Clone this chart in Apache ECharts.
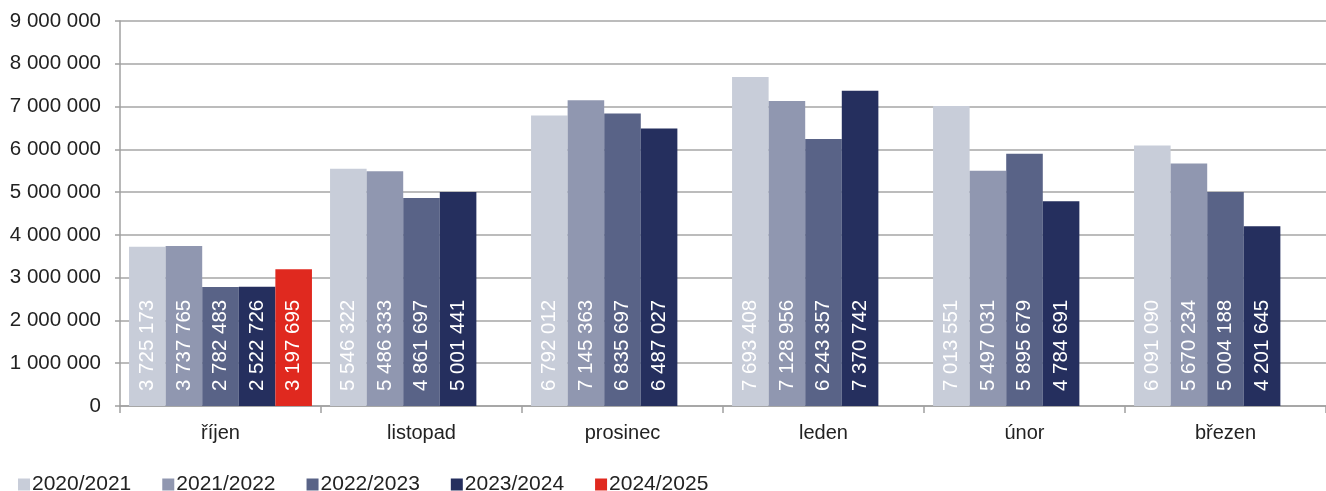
<!DOCTYPE html>
<html><head><meta charset="utf-8">
<script src="https://cdn.jsdelivr.net/npm/echarts@6/dist/echarts.min.js"></script>
<style>html,body{margin:0;padding:0;background:#fff}#c{width:1326px;height:491px}</style>
</head><body><div id="c"></div>
<script>
const categories = ['říjen','listopad','prosinec','leden','únor','březen'];
const seriesNames = ['2020/2021','2021/2022','2022/2023','2023/2024','2024/2025'];
const s2020 = [3725173,5546322,6792012,7693408,7013551,6091090];
const s2021 = [3737765,5486333,7145363,7128956,5497031,5670234];
const s2022 = [2782483,4861697,6835697,6243357,5895679,5004188];
const s2023 = [2790000,5001441,6487027,7370742,4784691,4201645];
const s2024 = [3197695,null,null,null,null,null];
const labels2023 = ['2 522 726','5 001 441','6 487 027','7 370 742','4 784 691','4 201 645'];
const yTicks = [0,1000000,2000000,3000000,4000000,5000000,6000000,7000000,8000000,9000000];
const colors = ['#c8cdd9','#9097b0','#596387','#252f5e','#e0291f'];

const fmt = v => String(v).replace(/\B(?=(\d{3})+(?!\d))/g,' ');
const data = [s2020,s2021,s2022,s2023,s2024];
const chart = echarts.init(document.getElementById('c'));
chart.setOption({
  animation:false,
  textStyle:{fontFamily:'Liberation Sans, Arial, sans-serif'},
  grid:{left:120,right:0,top:21,bottom:85,containLabel:false},
  legend:{left:13,top:469,itemWidth:12,itemHeight:12,itemGap:31,icon:'rect',
    textStyle:{fontSize:21,color:'#222',padding:[0,0,0,-3]},data:seriesNames},
  xAxis:{type:'category',data:categories,
    axisLine:{lineStyle:{color:'#a0a0a0',width:1.5}},
    axisTick:{show:true,length:7,lineStyle:{color:'#a0a0a0',width:1.5}},
    axisLabel:{fontSize:20,color:'#222',margin:17}},
  yAxis:{type:'value',min:yTicks[0],max:yTicks[yTicks.length-1],interval:1000000,
    axisLine:{show:true,lineStyle:{color:'#a0a0a0',width:1.5}},
    axisTick:{show:true,length:5,lineStyle:{color:'#a0a0a0',width:1.5}},
    splitLine:{lineStyle:{color:'#a6a6a6',width:1.5}},
    axisLabel:{fontSize:20.5,color:'#222',margin:19,formatter:v=>fmt(v)}},
  series: seriesNames.map((n,i)=>({
    name:n,type:'bar',data:data[i],barGap:'0%',barCategoryGap:'9%',
    itemStyle:{color:colors[i]},
    label:{show:true,position:'insideBottom',rotate:90,align:'left',verticalAlign:'middle',
      distance:15,fontSize:20.5,color:'#fff',
      formatter:p=> i===3 ? labels2023[p.dataIndex] : fmt(p.value)}
  }))
});
</script></body></html>
